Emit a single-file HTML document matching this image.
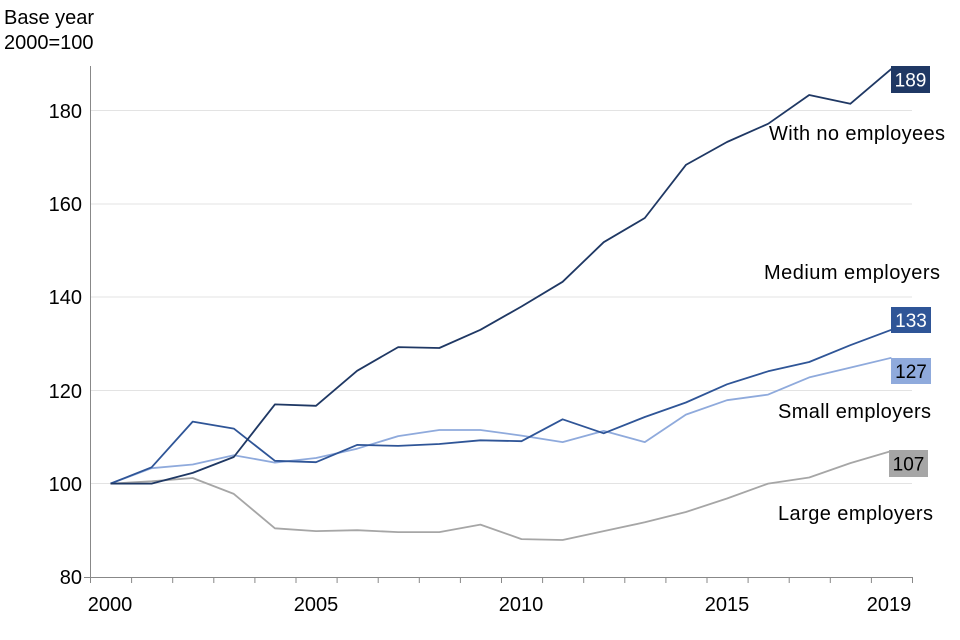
<!DOCTYPE html>
<html><head><meta charset="utf-8"><style>
body{margin:0;background:#fff}
svg{display:block;font-family:"Liberation Sans",Arial,sans-serif}
</style></head><body>
<svg id="s" width="960" height="640" viewBox="0 0 960 640">
<rect width="960" height="640" fill="#fff"/>
<g stroke="#e3e3e3" stroke-width="1">
<line x1="90" x2="912" y1="110.5" y2="110.5"/>
<line x1="90" x2="912" y1="204" y2="204"/>
<line x1="90" x2="912" y1="297" y2="297"/>
<line x1="90" x2="912" y1="390.5" y2="390.5"/>
<line x1="90" x2="912" y1="483.5" y2="483.5"/>
</g>
<g id="ax" stroke="#888" stroke-width="1"></g>
<g font-size="20" fill="#000">
<text x="82" y="118" text-anchor="end">180</text>
<text x="82" y="211" text-anchor="end">160</text>
<text x="82" y="304" text-anchor="end">140</text>
<text x="82" y="398" text-anchor="end">120</text>
<text x="82" y="491" text-anchor="end">100</text>
<text x="82" y="584" text-anchor="end">80</text>
<text x="110" y="611" text-anchor="middle">2000</text>
<text x="316" y="611" text-anchor="middle">2005</text>
<text x="521" y="611" text-anchor="middle">2010</text>
<text x="727" y="611" text-anchor="middle">2015</text>
<text x="889" y="611" text-anchor="middle">2019</text>
<text x="4" y="24">Base year</text>
<text x="4" y="49">2000=100</text>
<text x="769" y="140" textLength="176" lengthAdjust="spacing">With no employees</text>
<text x="764" y="279" textLength="176" lengthAdjust="spacing">Medium employers</text>
<text x="778" y="418" textLength="153" lengthAdjust="spacing">Small employers</text>
<text x="778" y="520" textLength="155" lengthAdjust="spacing">Large employers</text>
</g>
<g id="lines" fill="none" stroke-width="1.8" stroke-linejoin="round"></g>
<rect x="891" y="66" width="39" height="27" fill="#1f3864"/>
<rect x="891" y="307" width="40" height="26" fill="#2f5597"/>
<rect x="891" y="358" width="40" height="26" fill="#8faadc"/>
<rect x="889" y="450" width="39" height="27" fill="#a6a6a6"/>
<g font-size="19">
<text x="910.5" y="86.5" text-anchor="middle" fill="#fff">189</text>
<text x="911" y="327" text-anchor="middle" fill="#fff">133</text>
<text x="911" y="378" text-anchor="middle" fill="#000">127</text>
<text x="908.5" y="470.5" text-anchor="middle" fill="#000">107</text>
</g>
</svg>
<script>
var ns="http://www.w3.org/2000/svg";
var ax=document.getElementById("ax");
function ln(x1,y1,x2,y2){var l=document.createElementNS(ns,"line");l.setAttribute("x1",x1);l.setAttribute("y1",y1);l.setAttribute("x2",x2);l.setAttribute("y2",y2);ax.appendChild(l);}
ln(90.5,66,90.5,577);ln(90,577.5,912,577.5);
for(var i=0;i<=20;i++){var x=90.5+i*41.1;ln(x,577,x,583);}
ln(84,577.5,90,577.5);
var S=[
["#a6a6a6",[100,100.5,101.2,97.8,90.4,89.8,90,89.6,89.6,91.2,88.1,87.9,89.8,91.7,93.9,96.8,100,101.3,104.4,107]],
["#8faadc",[100,103.3,104.1,106.1,104.5,105.5,107.5,110.2,111.5,111.5,110.3,108.9,111.3,108.9,114.8,117.9,119.1,122.8,124.9,127]],
["#2f5597",[100,103.5,113.3,111.8,104.9,104.6,108.3,108.1,108.5,109.3,109.1,113.8,110.8,114.3,117.4,121.3,124.1,126.1,129.7,133]],
["#1f3864",[100,100,102.3,105.7,117,116.7,124.2,129.3,129.1,133,138,143.3,151.8,157,168.4,173.3,177.2,183.4,181.5,189]]];
var g=document.getElementById("lines");
S.forEach(function(s){var p=s[1].map(function(v,i){return (110.5+i*41.1).toFixed(1)+","+(483.6-(v-100)*4.66).toFixed(1)}).join(" ");
var pl=document.createElementNS(ns,"polyline");pl.setAttribute("points",p);pl.setAttribute("stroke",s[0]);g.appendChild(pl);});
</script>
</body></html>
